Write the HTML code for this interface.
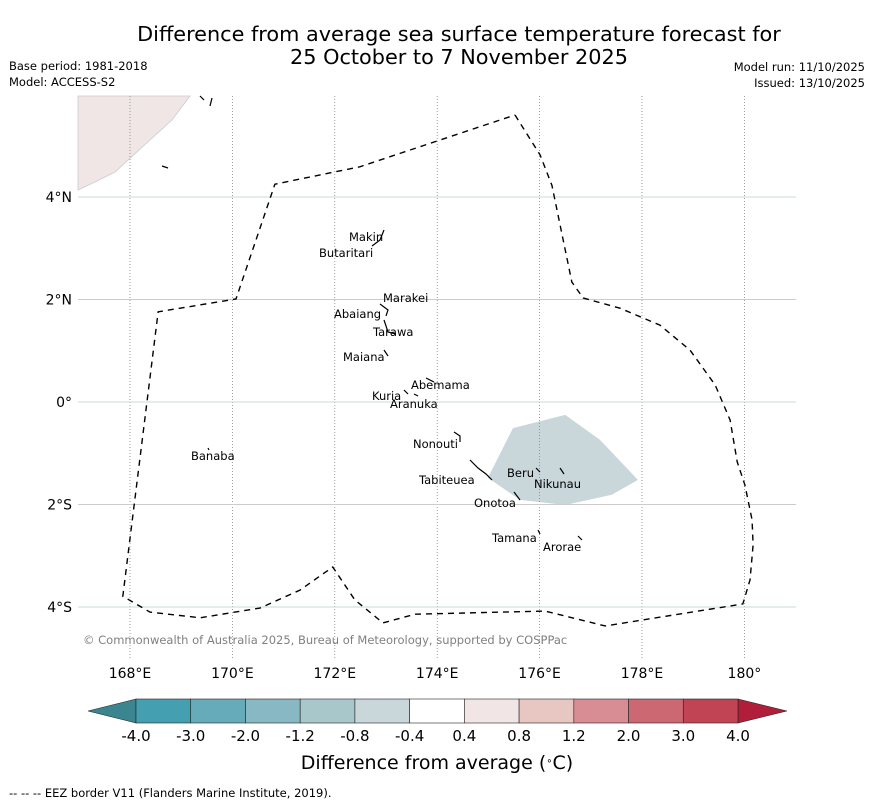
<!DOCTYPE html>
<html><head><meta charset="utf-8"><style>
body{margin:0;background:#fff;font-family:"DejaVu Sans","Liberation Sans",sans-serif;}
svg text{font-family:"DejaVu Sans","Liberation Sans",sans-serif;}
</style></head><body>
<svg id="c" width="873" height="804" xmlns="http://www.w3.org/2000/svg">
<text x="459" y="41" font-size="20.8" text-anchor="middle">Difference from average sea surface temperature forecast for</text>
<text x="459" y="64" font-size="20.8" text-anchor="middle">25 October to 7 November 2025</text>
<text x="9" y="70" font-size="11.5">Base period: 1981-2018</text>
<text x="9" y="86" font-size="11.5">Model: ACCESS-S2</text>
<text x="865" y="71" font-size="11.5" text-anchor="end">Model run: 11/10/2025</text>
<text x="865" y="87" font-size="11.5" text-anchor="end">Issued: 13/10/2025</text>
<g id="map"></g>
<text x="83" y="644" font-size="11.5" fill="#808080">© Commonwealth of Australia 2025, Bureau of Meteorology, supported by COSPPac</text>
<g id="cbar"></g>
<text x="437" y="769" font-size="19" text-anchor="middle">Difference from average (<tspan baseline-shift="super" font-size="10">∘</tspan>C)</text>
<text x="9" y="797" font-size="11.5">--  --  -- EEZ border V11 (Flanders Marine Institute, 2019).</text>
</svg>
<script>
const lonTicks=[168,170,172,174,176,178,180];
const lonLabels=["168°E","170°E","172°E","174°E","176°E","178°E","180°"];
const latTicks=[4,2,0,-2,-4];
const latLabels=["4°N","2°N","0°","2°S","4°S"];
const eezLon=[175.52,176.01,176.24,176.63,176.85,177.57,178.35,178.94,179.43,179.72,179.86,180.01,180.15,180.17,180.11,179.97,177.28,176.11,173.57,172.94,172.39,171.96,171.32,170.54,169.37,168.39,167.86,168.55,170.07,170.83,172.49,174.05,175.52];
const eezLat=[5.60,4.82,4.23,2.34,2.03,1.83,1.50,1.01,0.33,-0.35,-1.17,-1.62,-2.30,-2.79,-3.47,-3.94,-4.37,-4.08,-4.14,-4.31,-3.86,-3.22,-3.67,-4.02,-4.21,-4.10,-3.79,1.76,2.01,4.25,4.59,5.11,5.60];
const anomLon=[175.48,176.50,177.18,177.92,177.41,176.50,175.62,174.99];
const anomLat=[-0.51,-0.25,-0.74,-1.52,-1.81,-2.01,-1.91,-1.48];
const cbLevels=["-4.0","-3.0","-2.0","-1.2","-0.8","-0.4","0.4","0.8","1.2","2.0","3.0","4.0"];
const cbColors=["#449fb0","#66abba","#88b8c3","#a8c7cb","#c9d6da","#ffffff","#f1e6e5","#e8c6c1","#d88c93","#cc6872","#c04453"];
const X=lon=>130+(lon-168)*51.2;
const Y=lat=>402-lat*51.25;
const NS="http://www.w3.org/2000/svg";
function mk(t,a,p){const e=document.createElementNS(NS,t);for(const k in a)e.setAttribute(k,a[k]);p.appendChild(e);return e;}
const m=document.getElementById('map');
mk('rect',{x:78,y:96,width:718,height:562,fill:'#fff'},m);
const land=mk('polygon',{points:"78,96 190,96 172,120 150,140 115,172 95,182 78,190",fill:'#efe6e5',stroke:'#ccc','stroke-width':0.8},m);


const an=mk('polygon',{points:anomLon.map((v,i)=>X(v)+','+Y(anomLat[i])).join(' '),fill:'#c9d6da'},m);


lonTicks.forEach((v,i)=>{
 const l=mk('line',{x1:X(v),x2:X(v),y1:96,y2:658,stroke:'#777','stroke-width':0.7,'stroke-dasharray':'1,2'},m);
 
 
 const t=mk('text',{x:X(v),y:678,'font-size':14,'text-anchor':'middle'},m);t.textContent=lonLabels[i];
 
 
});
latTicks.forEach((v,i)=>{
 const l=mk('line',{x1:78,x2:796,y1:Y(v),y2:Y(v),stroke:v%4==0?'#c9d9dc':'#ccc','stroke-width':1},m);
 
 
 const t=mk('text',{x:72,y:Y(v)+5,'font-size':14,'text-anchor':'end'},m);t.textContent=latLabels[i];
 
 
});
const ez=mk('polyline',{points:eezLon.map((v,i)=>X(v)+','+Y(eezLat[i])).join(' '),fill:'none',stroke:'#000','stroke-width':1.4,'stroke-dasharray':'6,5'},m);


const labels=[["Makin",349,241],["Butaritari",319,257],["Marakei",383,302],["Abaiang",334,318],["Tarawa",373,336],["Maiana",343,361],["Abemama",411,389],["Kuria",372,400],["Aranuka",390,408],["Nonouti",413,448],["Banaba",191,460],["Beru",507,477],["Nikunau",534,488],["Tabiteuea",419,484],["Onotoa",474,507],["Tamana",492,542],["Arorae",543,551]];
labels.forEach(a=>{const t=mk('text',{x:a[1],y:a[2],'font-size':11.5},m);t.textContent=a[0];
 
 });
const isl=[[384,230,380,240,372,246],[380,304,388,310,386,316],[384,320,388,332,396,334],[384,350,388,356],[426,378,434,382],[404,390,408,394],[414,394,418,396],[454,432,460,436,460,442],[470,460,478,468,486,474,492,480],[536,468,540,472],[560,468,564,474],[514,492,520,500],[538,530,540,534],[578,536,582,540],[208,448,209,450],[200,96,204,100],[212,98,210,106],[162,166,168,168]];
isl.forEach(p=>{const e=mk('polyline',{points:p.join(' '),fill:'none',stroke:'#000','stroke-width':1.2},m);
 
 });
const cb=document.getElementById('cbar');
const bx0=136,bw=(738-136)/cbColors.length,by=699,bh=24;
const l1=mk('polygon',{points:`${bx0},${by} 88,${by+bh/2} ${bx0},${by+bh}`,fill:'#3a8590',stroke:'#222','stroke-width':0.6},cb);


const r1=mk('polygon',{points:`738,${by} 787,${by+bh/2} 738,${by+bh}`,fill:'#b01e3a',stroke:'#222','stroke-width':0.6},cb);


cbColors.forEach((c,i)=>{const r=mk('rect',{x:bx0+i*bw,y:by,width:bw,height:bh,fill:c,stroke:'#222','stroke-width':0.6},cb);
 
 });
cbLevels.forEach((v,i)=>{const t=mk('text',{x:bx0+i*bw,y:741,'font-size':15,'text-anchor':'middle'},cb);t.textContent=v;
 
 });
</script>
</body></html>
